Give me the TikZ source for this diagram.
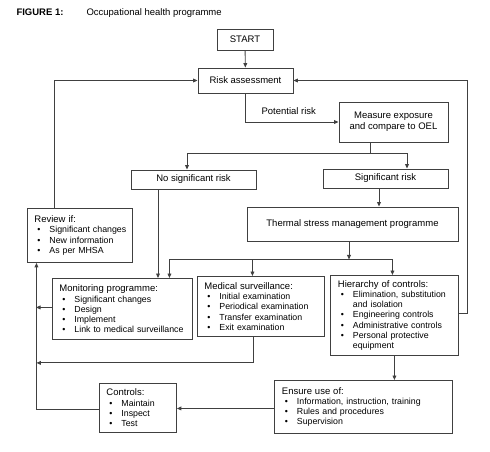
\documentclass[tikz,border=0pt]{standalone}
\usepackage{fontspec}
\setmainfont{Liberation Sans}
\usetikzlibrary{arrows.meta}
\newcommand{\bi}[1]{\\\hspace*{3pt}\makebox[12pt][l]{\textbullet}\mbox{#1}}
\newcommand{\hd}[1]{{\fontsize{9.5}{10.3}\selectfont #1}}
\colorlet{linec}{black!75}
\tikzset{
  box/.style={draw=linec, line width=0.9pt, font=\fontsize{9.5}{11}\selectfont, inner sep=0pt, align=center},
  lbox/.style={draw=linec, line width=0.9pt, font=\fontsize{8.8}{10.3}\selectfont, align=left, inner xsep=7pt, inner ysep=0pt, anchor=north west},
  conn/.style={draw=linec, line width=0.9pt},
  arr/.style={conn, -{Triangle[length=4.5pt,width=3.8pt]}}
}
\begin{document}
\begin{tikzpicture}[x=1pt,y=-1pt]
\useasboundingbox (0,0) rectangle (490,451);
\node[anchor=base west, font=\bfseries\fontsize{9.5}{11}\selectfont] (fig) at (13,15) {FIGURE 1:};
\node[anchor=base west, font=\fontsize{9.5}{11}\selectfont] (title) at (83,15) {Occupational health programme};

\node[box, minimum width=56, minimum height=21] (start) at (245,39.5) {START};
\node[box, minimum width=95, minimum height=25] (risk) at (245.5,80.5) {Risk assessment};
\node[box, minimum width=109, minimum height=40] (meas) at (393.5,122) {Measure exposure\\and compare to OEL};
\node[box, minimum width=125, minimum height=19] (nosig) at (193.5,179.5) {No significant risk};
\node[box, minimum width=125, minimum height=19] (sig) at (385.5,178.5) {Significant risk};
\node[box, minimum width=211, minimum height=34] (therm) at (352.5,224) {Thermal stress management programme};

\node[lbox, text width=91pt, minimum height=54pt] (rev) at (27,208) {\hd{Review if:}\bi{Significant changes}\bi{New information}\bi{As per MHSA}};
\node[lbox, text width=126pt, minimum height=61pt] (mon) at (52,278) {\hd{Monitoring programme:}\bi{Significant changes}\bi{Design}\bi{Implement}\bi{Link to medical surveillance}};
\node[lbox, text width=113pt, minimum height=60pt] (med) at (197,276) {\hd{Medical surveillance:}\bi{Initial examination}\bi{Periodical examination}\bi{Transfer examination}\bi{Exit examination}};
\node[lbox, text width=113pt, minimum height=80pt, inner xsep=7.5pt] (hier) at (330,275) {\hd{Hierarchy of controls:}\bi{Elimination, substitution}\\\hspace*{15pt}and isolation\bi{Engineering controls}\bi{Administrative controls}\bi{Personal protective}\\\hspace*{15pt}equipment};
\node[lbox, text width=163pt, minimum height=53pt, inner xsep=7.5pt] (ens) at (274,380) {\hd{Ensure use of:}\bi{Information, instruction, training}\bi{Rules and procedures}\bi{Supervision}};
\node[lbox, text width=63pt, minimum height=49pt] (ctl) at (99,383) {\hd{Controls:}\bi{Maintain}\bi{Inspect}\bi{Test}};

% connectors
\draw[arr] (start) -- (risk);
\draw[arr] (risk.south) |- (meas.west);
\node[anchor=base west, font=\fontsize{9.5}{11}\selectfont] (pot) at (258,114) {Potential risk};
\draw[conn] ([xshift=-23.5]meas.south) -- ++(0,11) coordinate (split);
\draw[arr] (split) -| ([xshift=-6.5]nosig.north);
\draw[arr] (split) -| ([xshift=21.5]sig.north);
\draw[arr] ([xshift=-6.5]sig.south) -- ([xshift=-6.5]sig.south |- therm.north);
\draw[arr] ([xshift=-3.5]therm.south) -- ++(0,18) coordinate (dist);
\draw[conn] ([xshift=47]mon.north |- dist) -- ([xshift=-2]hier.north |- dist);
\draw[arr] ([xshift=47]mon.north |- dist) -- ([xshift=47]mon.north);
\draw[arr] ([xshift=-8.5]med.north |- dist) -- ([xshift=-8.5]med.north);
\draw[arr] ([xshift=-2]hier.north |- dist) -- ([xshift=-2]hier.north);
\draw[arr] ([xshift=-35.5]nosig.south) -- ([xshift=-35.5]nosig.south |- mon.north);
\draw[arr] ([xshift=-25.5]rev.north) |- (risk.west);
\draw[arr] ([yshift=2]hier.east) -- ++(9,0) |- (risk.east);
\draw[arr] ([xshift=0]hier.south) -- ([xshift=0]hier.south |- ens.north);
\draw[arr] ([yshift=-1.5]ens.west) -- ([yshift=-1.5]ens.west -| ctl.east);
\draw[arr] ([yshift=-1.5]ctl.west) -| ([xshift=-43.5]rev.south);
\draw[arr] ([yshift=1.5]mon.west) -- ++(-16,0);
\draw[arr] ([xshift=-7.5]med.south) -- ++(0,26) -- ++(-217,0);
\end{tikzpicture}
\end{document}
